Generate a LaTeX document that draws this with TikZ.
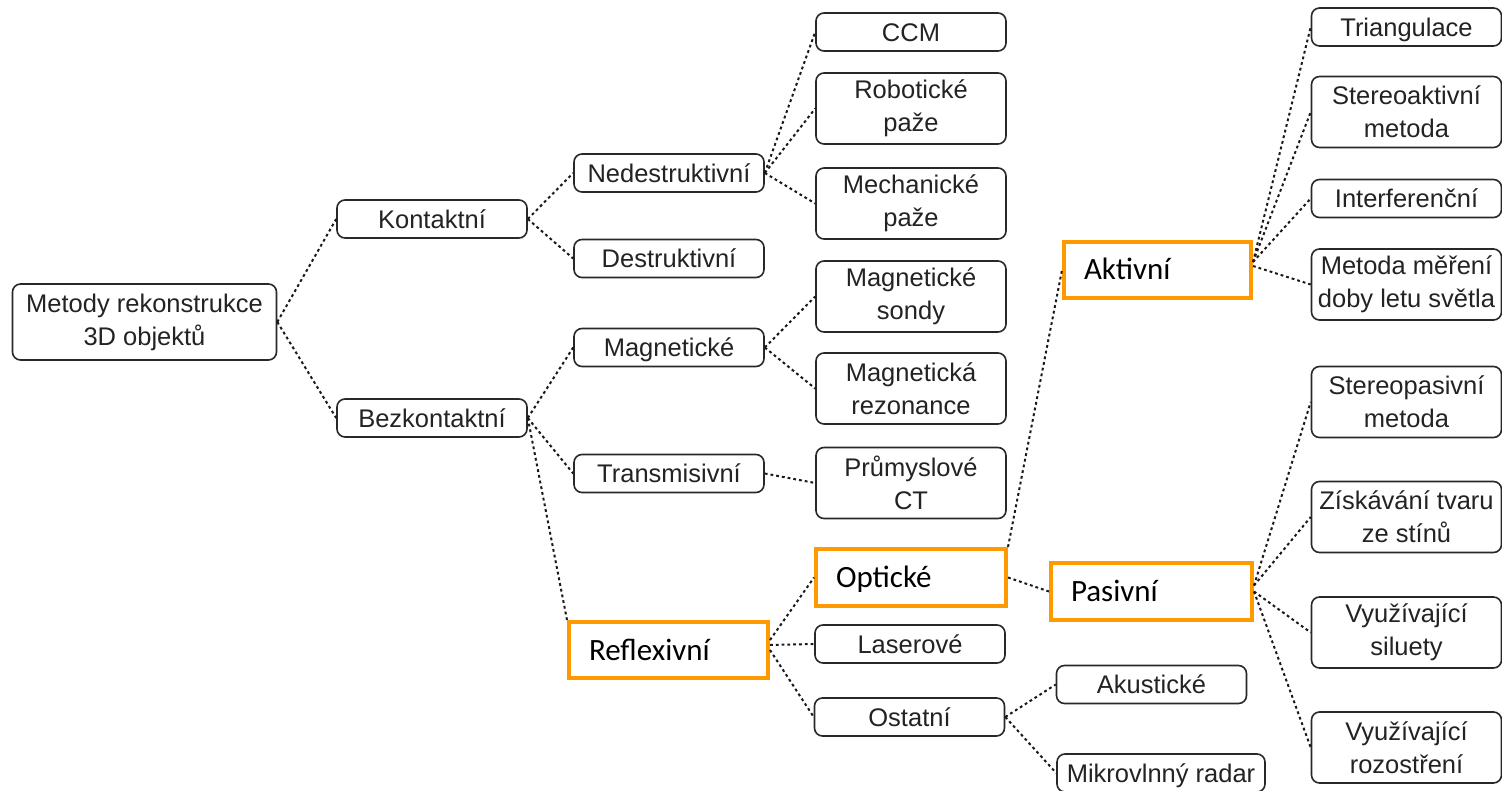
\documentclass[tikz,border=0pt]{standalone}
\usepackage{fontspec}
\setmainfont{Liberation Sans}
\newfontfamily\calfont{Carlito}
\definecolor{obord}{RGB}{255,153,0}
\definecolor{gline}{RGB}{40,40,40}
\definecolor{gtext}{RGB}{35,35,35}
\begin{document}
\begin{tikzpicture}[x=1pt,y=-1pt,
  gb/.style={draw=gline, line width=1.6pt, rounded corners=8pt, minimum width=190pt,
    minimum height=38pt, inner sep=0pt, align=center, text=gtext,
    font=\fontsize{25.5}{33}\selectfont},
  g1/.style={gb, text height=18.3pt, text depth=0pt},
  g2/.style={gb, minimum height=71pt},
  ob/.style={draw=obord, line width=4pt, minimum height=56pt, inner xsep=20pt,
    inner ysep=0pt, align=left, text height=20pt, text depth=0pt,
    font=\calfont\fontsize{31}{36}\selectfont, text=black},
  conn/.style={draw=black!90, line width=2pt, dash pattern=on 2.8pt off 3pt}]
\fill[white] (0,0) rectangle (1502,791);
\useasboundingbox (0,0) rectangle (1502,791);

% level 0-2
\node[gb, minimum width=264pt, minimum height=76pt] (root) at (144.5,322) {Metody rekonstrukce\\3D objektů};
\node[g1] (kon) at (432,219) {Kontaktní};
\node[g1] (bez) at (432,418) {Bezkontaktní};
\node[g1] (ned) at (669,173) {Nedestruktivní};
\node[g1] (des) at (669,258.5) {Destruktivní};
\node[g1] (mag) at (669,347.5) {Magnetické};
\node[g1] (tra) at (669,473.5) {Transmisivní};
\node[ob, text width=159pt] (ref) at (668.5,650) {Reflexivní};

% level 3
\node[g1] (ccm) at (911,32) {CCM};
\node[g2] (rob) at (911,108.5) {Robotické\\paže};
\node[g2] (mech) at (911,203.5) {Mechanické\\paže};
\node[g2] (msond) at (911,296.5) {Magnetické\\sondy};
\node[g2] (mrez) at (911,388.5) {Magnetická\\rezonance};
\node[g2] (ct) at (911,483) {Průmyslové\\CT};
\node[ob, text width=150pt, minimum height=57pt] (opt) at (911,577.5) {Optické};
\node[g1] (las) at (910,644) {Laserové};
\node[g1] (ost) at (909.5,717) {Ostatní};

% level 4
\node[g1] (aku) at (1151.5,684.5) {Akustické};
\node[g1, minimum width=208pt] (mik) at (1161,773) {Mikrovlnný radar};
\node[ob, text width=147pt] (akt) at (1157.5,270) {Aktivní};
\node[ob, text width=161pt, minimum height=57pt] (pas) at (1151.5,591.5) {Pasivní};

% level 5
\node[g1] (tri) at (1406.5,27) {Triangulace};
\node[g2] (ste) at (1406.5,112) {Stereoaktivní\\metoda};
\node[g1] (int) at (1406.5,198.5) {Interferenční};
\node[g2] (met) at (1406.5,284.5) {Metoda měření\\doby letu světla};
\node[g2] (spas) at (1406.5,402) {Stereopasivní\\metoda};
\node[g2] (zis) at (1406.5,517) {Získávání tvaru\\ze stínů};
\node[g2] (sil) at (1406.5,632.5) {Využívající\\siluety};
\node[g2] (roz) at (1406.5,747.5) {Využívající\\rozostření};

% connectors
\draw[conn] (root.east) -- (kon.west);
\draw[conn] (root.east) -- (bez.west);
\draw[conn] (kon.east) -- (ned.west);
\draw[conn] (kon.east) -- (des.west);
\draw[conn] (ned.east) -- (ccm.west);
\draw[conn] (ned.east) -- (rob.west);
\draw[conn] (ned.east) -- (mech.west);
\draw[conn] (bez.east) -- (mag.west);
\draw[conn] (bez.east) -- (tra.west);
\draw[conn] (bez.east) -- (ref.north west);
\draw[conn] (mag.east) -- (msond.west);
\draw[conn] (mag.east) -- (mrez.west);
\draw[conn] (tra.east) -- (ct.west);
\draw[conn] ([yshift=10pt]ref.east) -- (opt.west);
\draw[conn] ([yshift=5pt]ref.east) -- (las.west);
\draw[conn] (ref.east) -- (ost.west);
\draw[conn] (opt.north east) -- (akt.west);
\draw[conn] (opt.east) -- (pas.west);
\draw[conn] (ost.east) -- (aku.west);
\draw[conn] (ost.east) -- (mik.west);
\draw[conn] ([yshift=8pt]akt.east) -- (tri.west);
\draw[conn] ([yshift=8pt]akt.east) -- (ste.west);
\draw[conn] ([yshift=8pt]akt.east) -- (int.west);
\draw[conn] ([yshift=4pt]akt.east) -- (met.west);
\draw[conn] ([yshift=6pt]pas.east) -- (spas.west);
\draw[conn] ([yshift=6pt]pas.east) -- (zis.west);
\draw[conn] (pas.east) -- (sil.west);
\draw[conn] (pas.east) -- (roz.west);
\end{tikzpicture}
\end{document}
